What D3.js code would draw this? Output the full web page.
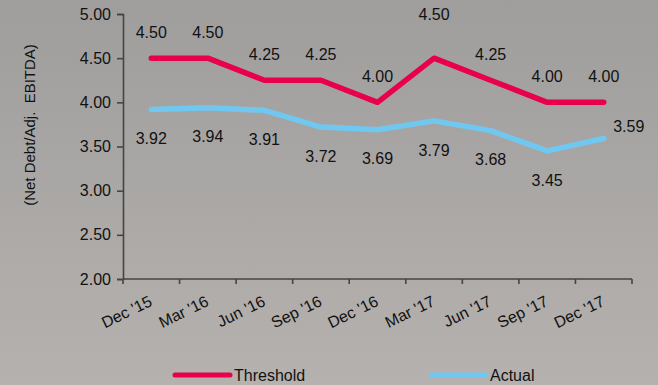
<!DOCTYPE html>
<html>
<head>
<meta charset="utf-8">
<script src="https://cdn.jsdelivr.net/npm/d3@7/dist/d3.min.js"></script>
<style>
  html, body { margin: 0; padding: 0; }
  svg { display: block; font-family: "Liberation Sans", Arial, sans-serif; }
</style>
</head>
<body>
<svg id="chart" width="658" height="385"></svg>
<script>
// Quarter-end covenant data
const quarters = ["Dec '15", "Mar '16", "Jun '16", "Sep '16", "Dec '16", "Mar '17", "Jun '17", "Sep '17", "Dec '17"];
const threshold = [4.50, 4.50, 4.25, 4.25, 4.00, 4.50, 4.25, 4.00, 4.00];
const actual = [3.92, 3.94, 3.91, 3.72, 3.69, 3.79, 3.68, 3.45, 3.59];
const yTicks = [2.00, 2.50, 3.00, 3.50, 4.00, 4.50, 5.00];

const W = 658, H = 385;
const svg = d3.select("#chart");
const FONT = "Liberation Sans, Arial, sans-serif";

// soft grey backdrop
const defs = svg.append("defs");
const grad = defs.append("linearGradient").attr("id", "bg").attr("x1", 0).attr("y1", 0).attr("x2", 0).attr("y2", 1);
grad.append("stop").attr("offset", "0%").attr("stop-color", "#9f9e9d");
grad.append("stop").attr("offset", "100%").attr("stop-color", "#b5b1ae");
svg.append("rect").attr("width", W).attr("height", H).attr("fill", "url(#bg)");

const x = d3.scaleBand().domain(quarters).range([123, 632]);
const y = d3.scaleLinear().domain([2, 5]).range([279, 14]);
const cx = d => x(d) + x.bandwidth() / 2;

const axisColor = "#454545";
const textColor = "#111";
const labelSize = 16;

// y axis
const yAxis = svg.append("g").attr("transform", "translate(123,0)")
  .call(d3.axisLeft(y).tickValues(yTicks).tickFormat(d3.format(".2f")).tickSizeOuter(0).tickSize(6).tickPadding(6));
yAxis.select(".domain").attr("stroke", axisColor).attr("stroke-width", 1.6);
yAxis.selectAll(".tick line").attr("stroke", axisColor).attr("stroke-width", 1.6);
yAxis.selectAll(".tick text").attr("fill", textColor).attr("font-size", labelSize).attr("font-family", FONT);

// x axis with tick marks on band edges
const xg = svg.append("g").attr("transform", "translate(0,279)");
xg.append("line").attr("x1", 123).attr("x2", 632).attr("stroke", axisColor).attr("stroke-width", 1.6);
const edges = quarters.map(q => x(q)).concat([x.range()[1]]);
xg.selectAll("line.edge").data(edges).enter().append("line")
  .attr("class", "edge").attr("x1", d => d).attr("x2", d => d).attr("y1", 0).attr("y2", 5)
  .attr("stroke", axisColor).attr("stroke-width", 1.6);
xg.selectAll("text").data(quarters).enter().append("text")
  .attr("transform", d => `translate(${cx(d) + 2},${26}) rotate(-26)`)
  .attr("text-anchor", "end")
  .attr("font-size", labelSize).attr("fill", textColor)
  .text(d => d);

// y title
svg.append("text")
  .attr("transform", "translate(35,125) rotate(-90)")
  .attr("text-anchor", "middle")
  .attr("font-size", 15).attr("fill", textColor)
  .attr("xml:space", "preserve")
  .text("(Net Debt/Adj.  EBITDA)");

// series lines
const line = d3.line().x((d, i) => cx(quarters[i])).y(d => y(d));
const series = [
  { name: "Threshold", values: threshold, color: "#e8004b" },
  { name: "Actual", values: actual, color: "#70c8f0" }
];
series.slice().reverse().forEach(s => {
  svg.append("path").datum(s.values).attr("d", line)
    .attr("fill", "none").attr("stroke", s.color).attr("stroke-width", 5.5)
    .attr("stroke-linecap", "round").attr("stroke-linejoin", "round");
});

// value labels: threshold above, actual below (last actual to the right)
const fmt = d3.format(".2f");
svg.append("g").selectAll("text").data(threshold).enter().append("text")
  .attr("x", (d, i) => cx(quarters[i]))
  .attr("y", (d, i) => y(d) - (i === 5 ? 44 : 26))
  .attr("dy", "0.36em")
  .attr("text-anchor", "middle").attr("font-size", labelSize).attr("fill", textColor)
  .text(d => fmt(d));
svg.append("g").selectAll("text").data(actual).enter().append("text")
  .attr("x", (d, i) => cx(quarters[i]) + (i === 8 ? 25 : 0))
  .attr("y", (d, i) => y(d) + (i === 8 ? -12 : 29))
  .attr("dy", "0.36em")
  .attr("text-anchor", "middle").attr("font-size", labelSize).attr("fill", textColor)
  .text(d => fmt(d));

// legend
const legend = [
  { s: series[0], x0: 175 },
  { s: series[1], x0: 431 }
];
legend.forEach(l => {
  svg.append("line").attr("x1", l.x0).attr("x2", l.x0 + 55).attr("y1", 375).attr("y2", 375)
    .attr("stroke", l.s.color).attr("stroke-width", 5).attr("stroke-linecap", "round");
  svg.append("text").attr("x", l.x0 + 59).attr("y", 381)
    .attr("font-size", 16).attr("fill", textColor).text(l.s.name);
});
</script>
</body>
</html>
